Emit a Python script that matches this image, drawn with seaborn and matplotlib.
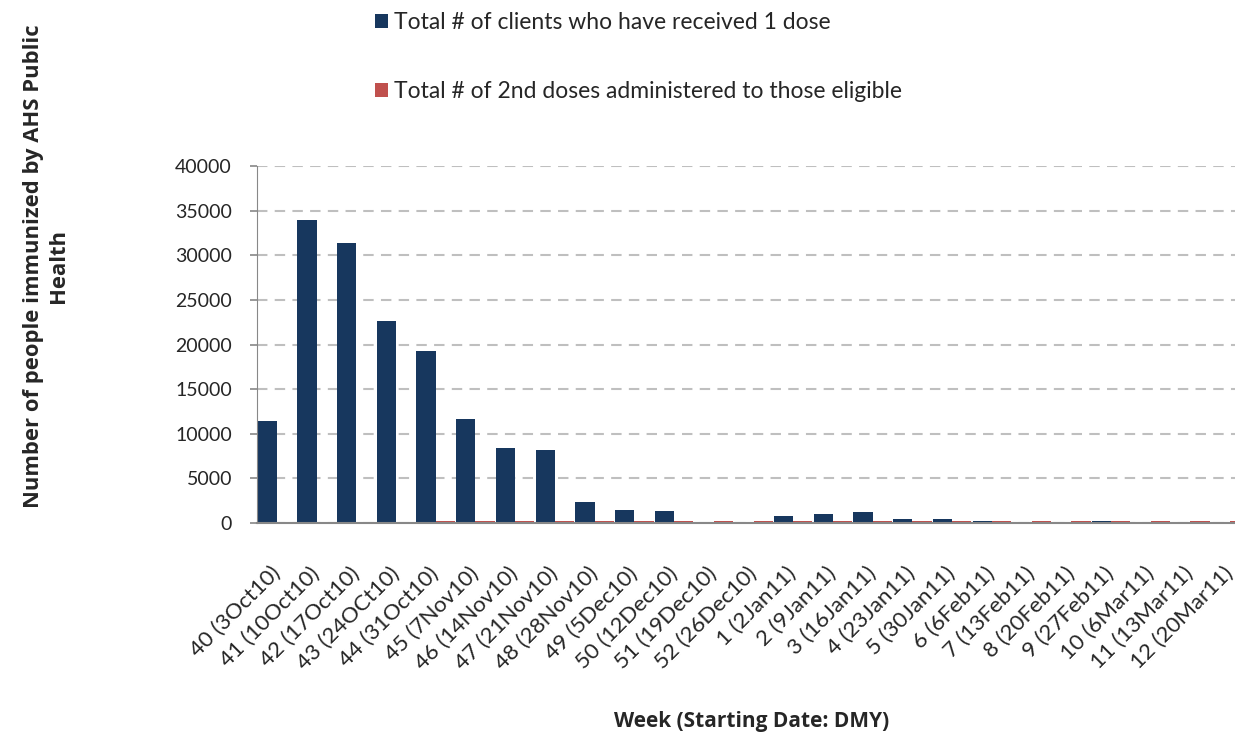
import numpy as np
import pandas as pd
import matplotlib.pyplot as plt
import seaborn as sns

# week labels (as printed on the original axis)
weeks = ["40 (3Oct10)", "41 (10Oct10)", "42 (17Oct10)", "43 (24OCt10)", "44 (31Oct10)",
         "45 (7Nov10)", "46 (14Nov10)", "47 (21Nov10)", "48 (28Nov10)", "49 (5Dec10)",
         "50 (12Dec10)", "51 (19Dec10)", "52 (26Dec10)", "1 (2Jan11)", "2 (9Jan11)",
         "3 (16Jan11)", "4 (23Jan11)", "5 (30Jan11)", "6 (6Feb11)", "7 (13Feb11)",
         "8 (20Feb11)", "9 (27Feb11)", "10 (6Mar11)", "11 (13Mar11)", "12 (20Mar11)"]

first_dose = [11400, 34000, 31400, 22600, 19300, 11700, 8400, 8200, 2300, 1500,
              1300, 0, 150, 800, 1000, 1250, 500, 500, 200, 0,
              0, 200, 0, 0, 0]
second_dose = [0, 0, 0, 0, 250, 250, 250, 250, 250, 250,
               250, 250, 250, 250, 250, 250, 250, 250, 250, 250,
               250, 250, 250, 250, 250]

lab1 = "Total # of clients who have received 1 dose"
lab2 = "Total # of 2nd doses administered to those eligible"

df = pd.DataFrame({"Week": weeks * 2,
                   "Count": first_dose + second_dose,
                   "Series": [lab1] * len(weeks) + [lab2] * len(weeks)})

sns.set_style("white")
plt.rcParams["font.family"] = ["Lato", "DejaVu Sans"]

fig = plt.figure(figsize=(12.35, 7.39), dpi=100)
ax = fig.add_axes([257/1235, 1 - 523/739, (1250 - 257)/1235, 357/739])

sns.barplot(data=df, x="Week", y="Count", hue="Series", order=weeks,
            palette=["#17375E", "#C0504D"], width=0.97, gap=0,
            linewidth=0, saturation=1, ax=ax)

ax.set_ylim(0, 40000)
ax.set_xlim(-0.5, len(weeks) - 0.5)
ax.set_yticks(np.arange(0, 40001, 5000))
ax.yaxis.grid(True, linestyle=(0, (5, 3.5)), color="#BFBFBF", linewidth=1.5)
ax.set_axisbelow(True)

for side in ["top", "right"]:
    ax.spines[side].set_visible(False)
ax.spines["left"].set_color("#888888")
ax.spines["bottom"].set_color("#888888")
ax.spines["bottom"].set_linewidth(1.5)

ax.set_xticks(np.arange(-0.5, len(weeks), 1), minor=True)
ax.tick_params(axis="x", which="minor", length=8, width=1.2, color="#888888", direction="out")
ax.tick_params(axis="x", which="major", length=0, pad=34)
ax.tick_params(axis="y", length=5, width=1.2, color="#888888", direction="out", left=True,
               labelsize=14, pad=13)
ax.set_xticks(range(len(weeks)))
ax.set_xticklabels(weeks, rotation=45, ha="right", va="center", rotation_mode="anchor",
                   fontsize=16)

ax.set_xlabel("")
ax.set_ylabel("")

handles, labels = ax.get_legend_handles_labels()
ax.legend_.remove()
fig.legend(handles, labels, loc="upper left", bbox_to_anchor=(375/1235, 1 - 12/739),
           frameon=False, fontsize=16.5, handlelength=0.55, handleheight=0.55,
           handletextpad=0.3, labelspacing=2.1, borderpad=0, borderaxespad=0)

fig.text(752/1235, 1 - 722/739, "Week (Starting Date: DMY)", ha="center", va="center",
         fontsize=15, fontweight="bold", family=["Open Sans", "DejaVu Sans"])
fig.text(46/1235, 1 - 266/739, "Number of people immunized by AHS Public\nHealth",
         rotation=90, ha="center", va="center", multialignment="center",
         fontsize=15.8, fontweight="bold", family=["Open Sans", "DejaVu Sans"])

fig.savefig("out.png", dpi=100)
